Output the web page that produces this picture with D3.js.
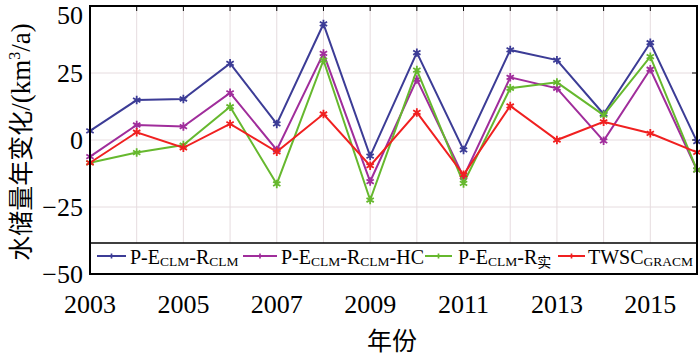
<!DOCTYPE html>
<html><head><meta charset="utf-8">
<script src="https://cdn.jsdelivr.net/npm/d3@7"></script>
<style>body{margin:0;background:#fff}svg{display:block}</style>
</head><body>
<script>
const years = [2003,2004,2005,2006,2007,2008,2009,2010,2011,2012,2013,2014,2015,2016];
const seriesBlue = [3.4,14.9,15.3,28.6,6.0,43.3,-6.0,32.6,-3.7,33.6,29.8,9.7,36.3,-0.6];
const seriesMagenta = [-6.2,5.6,5.0,17.6,-3.7,32.3,-15.5,22.6,-13.8,23.4,19.3,-0.3,26.4,-11.2];
const seriesGreen = [-8.5,-4.7,-1.9,12.4,-16.4,29.8,-22.4,26.1,-16.2,19.3,21.5,9.3,31.1,-11.2];
const seriesRed = [-8.5,2.9,-2.9,6.0,-4.4,9.7,-9.6,10.3,-13.0,12.7,0.0,6.8,2.5,-4.6];
const yTicks = [-50,-25,0,25,50];
const xTickLabels = [2003,2005,2007,2009,2011,2013,2015];
const legendNames = [["P-E","CLM","-R","CLM",""],["P-E","CLM","-R","CLM","-HC"],["P-E","CLM","-R","实",""],["TWSC","GRACM","","",""]];
const colors = ["#3c3c96","#a02d9b","#66b82e","#f02020"];

const W=700,H=357;
const m={l:90,r:3,t:6,b:83};
const svg=d3.select("body").append("svg").attr("width",W).attr("height",H);
const x=d3.scaleLinear().domain([2003,2016]).range([m.l,W-m.r]);
const y=d3.scaleLinear().domain([-50,50]).range([H-m.b,m.t]);
const serif="Liberation Serif";
const cjk="Noto Sans CJK SC";

// grid
const g=svg.append("g");
g.selectAll(".vg").data(years.slice(1,-1)).join("line")
 .attr("x1",d=>x(d)).attr("x2",d=>x(d)).attr("y1",y(50)).attr("y2",y(-50))
 .attr("stroke","#e6dcdf").attr("stroke-width",1);
g.selectAll(".hg").data(yTicks.slice(1,-1)).join("line")
 .attr("x1",x(2003)).attr("x2",x(2016)).attr("y1",d=>y(d)).attr("y2",d=>y(d))
 .attr("stroke","#e6dcdf").attr("stroke-width",1);

// ticks
const tl=5;
svg.append("g").selectAll("line").data(years).join("line")
 .attr("x1",d=>x(d)).attr("x2",d=>x(d)).attr("y1",y(50)).attr("y2",y(50)+tl).attr("stroke","#000").attr("stroke-width",1);
svg.append("g").selectAll("line").data(years).join("line")
 .attr("x1",d=>x(d)).attr("x2",d=>x(d)).attr("y1",y(-50)).attr("y2",y(-50)-tl).attr("stroke","#000").attr("stroke-width",1);
svg.append("g").selectAll("line").data(yTicks).join("line")
 .attr("x1",x(2016)).attr("x2",x(2016)-tl).attr("y1",d=>y(d)).attr("y2",d=>y(d)).attr("stroke","#000").attr("stroke-width",1);

// series
const all=[seriesBlue,seriesMagenta,seriesGreen,seriesRed];
const line=d3.line().x((d,i)=>x(years[i])).y(d=>y(d));
const sym=d3.symbol().type(d3.symbolAsterisk).size(50);
all.forEach((s,k)=>{
  svg.append("path").datum(s).attr("d",line).attr("fill","none").attr("stroke",colors[k]).attr("stroke-width",2);
  svg.append("g").selectAll("path").data(s).join("path")
   .attr("transform",(d,i)=>`translate(${x(years[i])},${y(d)})`)
   .attr("d",sym).attr("fill","none").attr("stroke",colors[k]).attr("stroke-width",1.8);
});

// legend box
const lgTop=243, lgBot=y(-50);
svg.append("rect").attr("x",x(2003)).attr("y",lgTop).attr("width",x(2016)-x(2003)).attr("height",lgBot-lgTop)
 .attr("fill","#fff").attr("stroke","#000").attr("stroke-width",1.5);
const lgY=256, lgBase=264;
const lgPos=[[97,126,130],[243,277,281],[425,452,458],[558,585,588]];
legendNames.forEach((n,k)=>{
  const [a,b,tx]=lgPos[k];
  svg.append("line").attr("x1",a).attr("x2",b).attr("y1",lgY).attr("y2",lgY).attr("stroke",colors[k]).attr("stroke-width",2);
  svg.append("path").attr("transform",`translate(${(a+b)/2},${lgY})`).attr("d",d3.symbol().type(d3.symbolCross).size(14)).attr("fill",colors[k]);
  const t=svg.append("text").attr("x",tx).attr("y",lgBase).style("font-family",serif).style("font-size","20px").attr("fill","#000");
  t.append("tspan").text(n[0]);
  t.append("tspan").style("font-size","13.5px").attr("dy",2).text(n[1]);
  if(n[2]) t.append("tspan").attr("dy",-2).text(n[2]);
  if(n[3]) t.append("tspan").style("font-size",n[3]==="实"?"14px":"13.5px").attr("dy",n[3]==="实"?3:2).style("font-family",n[3]==="实"?cjk:serif).text(n[3]);
  if(n[4]) t.append("tspan").attr("dy",-2).text(n[4]);
});

// frame
svg.append("rect").attr("x",x(2003)).attr("y",y(50)).attr("width",x(2016)-x(2003)).attr("height",y(-50)-y(50))
 .attr("fill","none").attr("stroke","#000").attr("stroke-width",2);

// tick labels
svg.append("g").selectAll("text").data(yTicks).join("text")
 .attr("x",83).attr("y",d=>Math.max(y(d),15)).attr("dy","0.35em").attr("text-anchor","end")
 .style("font-family",serif).style("font-size","26px").text(d=>d<0?"\u2212"+Math.abs(d):d);
svg.append("g").selectAll("text").data(xTickLabels).join("text")
 .attr("x",d=>x(d)).attr("y",313).attr("text-anchor","middle")
 .style("font-family",serif).style("font-size","26px").text(d=>d);

// axis titles
svg.append("text").attr("x",392).attr("y",350).attr("text-anchor","middle")
 .style("font-family",cjk).style("font-size","25px").text("年份");
const yt=svg.append("text").attr("transform","translate(30,142) rotate(-90)").attr("text-anchor","middle")
 .style("font-size","25px").style("font-family",cjk);
yt.append("tspan").text("水储量年变化");
yt.append("tspan").style("font-family",serif).style("font-size","27px").text("/(km");
yt.append("tspan").style("font-family",serif).style("font-size","16px").attr("dy",-10).text("3");
yt.append("tspan").style("font-family",serif).style("font-size","27px").attr("dy",10).text("/a)");
</script>
</body></html>
